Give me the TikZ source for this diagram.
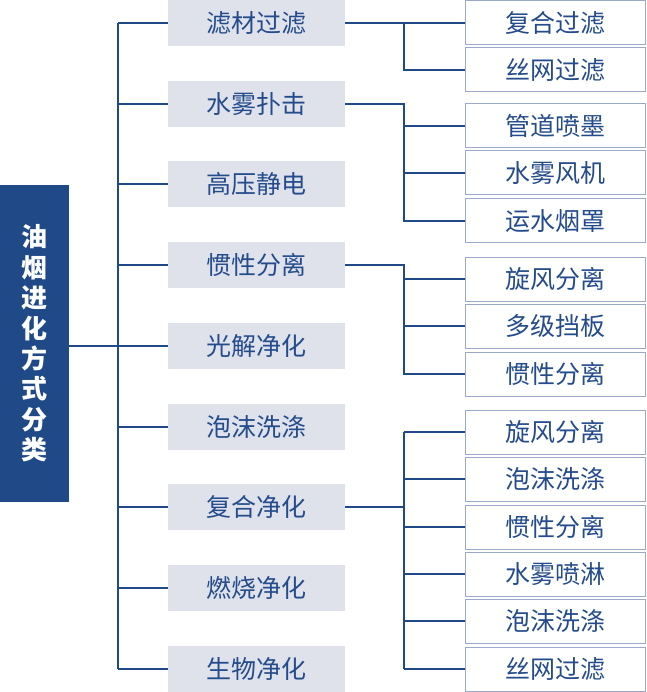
\documentclass[tikz,border=0pt]{standalone}
\usepackage{fontspec}
\setmainfont{Noto Sans CJK SC}
\definecolor{navy}{HTML}{1F4A87}
\definecolor{linec}{HTML}{1F4A87}
\definecolor{midfill}{HTML}{DFE1EB}
\definecolor{rborder}{HTML}{9CA8CC}
\definecolor{txt}{HTML}{244C8C}
\tikzset{
  rootbox/.style={fill=navy, draw=none, text=white, minimum width=69pt, minimum height=317pt, inner sep=0pt, align=center,
    font=\fontsize{26}{30.4}\selectfont\bfseries},
  midbox/.style={fill=midfill, draw=none, text=txt, minimum width=177pt, minimum height=46pt, inner sep=0pt,
    font=\fontsize{25}{30}\selectfont},
  leafbox/.style={fill=white, draw=rborder, line width=1pt, text=txt, minimum width=180pt, minimum height=44pt, inner sep=0pt,
    font=\fontsize{25}{30}\selectfont},
  conn/.style={draw=linec, line width=1.2pt}
}
\begin{document}
\begin{tikzpicture}[x=1pt,y=-1pt]
\useasboundingbox (0,0) rectangle (646,692);
\node[rootbox] (root) at (34.5,343.5) {油\\烟\\进\\化\\方\\式\\分\\类};
% middle column
\node[midbox] (m1) at (256.5,23) {滤材过滤};
\node[midbox] (m2) at (256.5,104) {水雾扑击};
\node[midbox] (m3) at (256.5,184) {高压静电};
\node[midbox] (m4) at (256.5,265) {惯性分离};
\node[midbox] (m5) at (256.5,346) {光解净化};
\node[midbox] (m6) at (256.5,427) {泡沫洗涤};
\node[midbox] (m7) at (256.5,507) {复合净化};
\node[midbox] (m8) at (256.5,588) {燃烧净化};
\node[midbox] (m9) at (256.5,669) {生物净化};
% leaves
\node[leafbox] (r1) at (555,23) {复合过滤};
\node[leafbox] (r2) at (555,70) {丝网过滤};
\node[leafbox] (r3) at (555,126) {管道喷墨};
\node[leafbox] (r4) at (555,173) {水雾风机};
\node[leafbox] (r5) at (555,221) {运水烟罩};
\node[leafbox] (r6) at (555,279) {旋风分离};
\node[leafbox] (r7) at (555,326) {多级挡板};
\node[leafbox] (r8) at (555,374) {惯性分离};
\node[leafbox] (r9) at (555,432) {旋风分离};
\node[leafbox] (r10) at (555,479) {泡沫洗涤};
\node[leafbox] (r11) at (555,527) {惯性分离};
\node[leafbox] (r12) at (555,574) {水雾喷淋};
\node[leafbox] (r13) at (555,621) {泡沫洗涤};
\node[leafbox] (r14) at (555,669) {丝网过滤};
% trunk
\coordinate (trunk) at (118,0);
\coordinate (sub) at (404,0);
\draw[conn] (m1.west -| trunk) -- (m9.west -| trunk);
\draw[conn] (root.east |- m5.west) -- (m5.west);
\foreach \i in {1,2,3,4,6,7,8,9} {
  \draw[conn] (m\i.west -| trunk) -- (m\i.west);
}
% group 1
\draw[conn] (m1.east) -- (r1.west);
\draw[conn] (m1.east -| sub) |- (r2.west);
% group 2
\draw[conn] (m2.east) -- (m2.east -| sub) |- (r5.west);
\draw[conn] (r3.west -| sub) -- (r3.west);
\draw[conn] (r4.west -| sub) -- (r4.west);
% group 3
\draw[conn] (m4.east) -- (m4.east -| sub) |- (r8.west);
\draw[conn] (r6.west -| sub) -- (r6.west);
\draw[conn] (r7.west -| sub) -- (r7.west);
% group 4
\draw[conn] (m7.east) -- (m7.east -| sub);
\draw[conn] (r9.west -| sub) -- (r14.west -| sub);
\foreach \i in {9,...,14} {
  \draw[conn] (r\i.west -| sub) -- (r\i.west);
}
\end{tikzpicture}
\end{document}
